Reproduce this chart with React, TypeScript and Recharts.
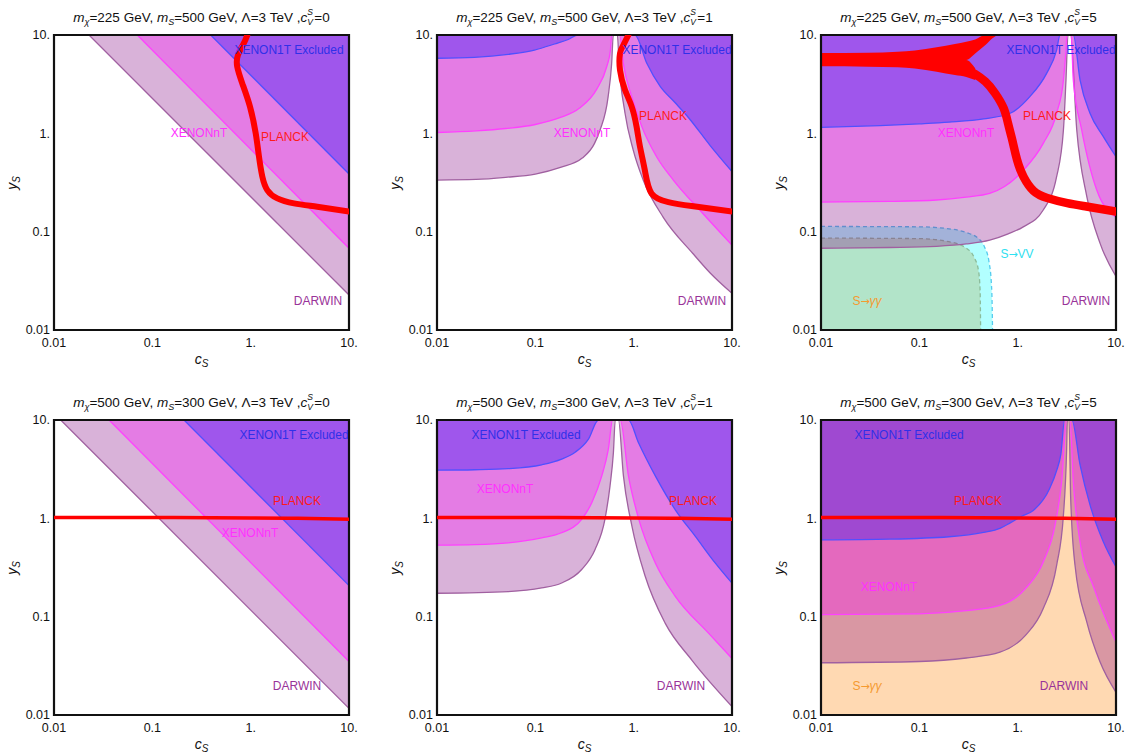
import React from "react";
import { ComposedChart, Area, Line, XAxis, YAxis, ReferenceArea } from "recharts";

const FONT = '"Liberation Sans", Arial, sans-serif';
const TICKS = [0.01, 0.1, 1, 10];
const fmtTick = (v: number) => (v >= 1 ? `${v}.` : `${v}`);

// ---- top row: m_chi = 225 GeV, m_S = 500 GeV ----
// cV = 0
const p1DarwinX = [0.0227, 10];
const p1DarwinY = [10, 0.0227];
const p1NtX = [0.0703, 10];
const p1NtY = [10, 0.0678];
const p1X1tX = [0.392, 10];
const p1X1tY = [10, 0.386];
const p1PlanckX = [0.925, 0.85, 0.743, 0.73, 0.822, 0.984, 1.125, 1.215, 1.314, 1.476, 1.866, 2.76, 4.76, 10];
const p1PlanckY = [10, 8.2, 6.27, 4.77, 3.22, 1.87, 1.0, 0.579, 0.363, 0.265, 0.218, 0.194, 0.179, 0.16];

// cV = 1
const p2DarwinX = [0.01, 0.025, 0.05, 0.1, 0.18, 0.3, 0.4, 0.455, 0.55, 0.597, 0.621, 0.683, 0.71, 0.817, 0.99, 1.25, 2, 4, 6, 10];
const p2DarwinY = [0.335, 0.34, 0.357, 0.385, 0.45, 0.56, 0.79, 1.08, 2.36, 5.1, 10, 10, 5.15, 1.6, 0.676, 0.335, 0.14, 0.06, 0.038, 0.0236];
const p2NtX = [0.01, 0.025, 0.05, 0.1, 0.18, 0.28, 0.42, 0.53, 0.58, 0.6, 0.72, 0.785, 0.955, 1.21, 1.71, 2.53, 5, 10];
const p2NtY = [1.02, 1.06, 1.12, 1.23, 1.45, 1.8, 2.8, 4.7, 7, 10, 10, 5.15, 2.36, 1.17, 0.578, 0.335, 0.155, 0.073];
const p2X1tX = [0.01, 0.024, 0.053, 0.098, 0.157, 0.216, 0.272, 1.03, 1.36, 1.86, 2.6, 3.6, 6, 10];
const p2X1tY = [5.8, 5.93, 6.36, 7.03, 8.1, 9.0, 10, 10, 5.15, 3.0, 2.08, 1.45, 0.75, 0.408];
const p2PlanckX = [0.883, 0.78, 0.726, 0.726, 0.817, 0.955, 1.07, 1.16, 1.3, 1.52, 2.25, 3.89, 10];
const p2PlanckY = [10, 7.8, 6.5, 4.4, 2.76, 1.87, 1.17, 0.73, 0.42, 0.245, 0.2, 0.182, 0.16];

// cV = 5
const p3DarwinX = [0.01, 0.05, 0.15, 0.3, 0.52, 0.8, 1.14, 1.82, 2.49, 2.92, 3.1, 3.25, 3.45, 3.99, 5.05, 6.89, 10];
const p3DarwinY = [0.0678, 0.069, 0.071, 0.075, 0.082, 0.095, 0.112, 0.166, 0.362, 1.08, 3.48, 10, 10, 1.08, 0.227, 0.076, 0.035];
const p3NtX = [0.01, 0.05, 0.15, 0.3, 0.52, 1.14, 1.82, 2.49, 2.92, 3.1, 3.17, 3.5, 3.68, 4.48, 6.37, 10];
const p3NtY = [0.2, 0.203, 0.21, 0.225, 0.245, 0.42, 0.79, 1.6, 3.48, 7, 10, 10, 3.48, 1.08, 0.265, 0.14];
const p3X1tX = [0.01, 0.04, 0.1, 0.2, 0.45, 0.84, 1.33, 1.97, 2.49, 2.7, 3.68, 4.31, 5.44, 7.43, 10];
const p3X1tY = [1.15, 1.2, 1.25, 1.3, 1.4, 1.6, 2.36, 4.07, 7.03, 10, 10, 3.48, 1.6, 0.925, 0.578];
const p3VvX = [0.01, 0.1, 0.2, 0.3, 0.4, 0.46, 0.51, 0.54, 0.552, 0.555];
const p3VvY = [0.113, 0.112, 0.107, 0.098, 0.085, 0.07, 0.05, 0.03, 0.015, 0.01];
const p3GgX = [0.01, 0.1, 0.2, 0.3, 0.36, 0.4, 0.415, 0.42];
const p3GgY = [0.086, 0.085, 0.079, 0.068, 0.055, 0.04, 0.025, 0.01];
// PLANCK band at top-left: an upper branch running into the top frame and a lower branch that turns down
const p3UpperX = [0.01, 0.03, 0.06, 0.09, 0.15, 0.23, 0.3, 0.37, 0.47, 0.55, 0.62];
const p3UpperLo = [5.45, 5.45, 5.45, 5.45, 5.45, 5.5, 5.57, 6.5, 7.9, 9.2, 10];
const p3UpperHi = [6.55, 6.6, 6.75, 6.95, 7.5, 8.1, 8.55, 9.0, 10, 10, 10];
const p3LowerX = [0.01, 0.03, 0.06, 0.09, 0.15, 0.23, 0.3, 0.37];
const p3LowerLo = [4.8, 4.76, 4.7, 4.56, 4.24, 3.92, 3.75, 3.48];
const p3LowerHi = [5.6, 5.6, 5.6, 5.6, 5.6, 5.6, 5.57, 4.58];
const p3PlanckX = [0.33, 0.37, 0.47, 0.59, 0.72, 0.8, 0.87, 0.95, 1.02, 1.15, 1.45, 2.0, 3.2, 5, 10];
const p3PlanckY = [4.25, 4.0, 3.35, 2.55, 1.8, 1.25, 0.9, 0.62, 0.48, 0.36, 0.26, 0.22, 0.195, 0.18, 0.16];

// ---- bottom row: m_chi = 500 GeV, m_S = 300 GeV ----
// cV = 0
const p4DarwinX = [0.0117, 10];
const p4DarwinY = [10, 0.0117];
const p4NtX = [0.0363, 10];
const p4NtY = [10, 0.035];
const p4X1tX = [0.21, 10];
const p4X1tY = [10, 0.207];
const flatPlanckX = [0.01, 0.1, 1, 3, 10];
const flatPlanckY = [1.02, 1.02, 1.01, 1.0, 0.98];

// cV = 1
const p5DarwinX = [0.01, 0.053, 0.116, 0.185, 0.296, 0.405, 0.51, 0.575, 0.622, 0.65, 0.7, 0.787, 0.96, 1.31, 2.09, 3.92, 10];
const p5DarwinY = [0.173, 0.18, 0.196, 0.22, 0.302, 0.483, 0.977, 2.14, 4.64, 10, 10, 2.7, 0.834, 0.258, 0.086, 0.036, 0.0122];
const p5NtX = [0.01, 0.024, 0.053, 0.116, 0.185, 0.296, 0.375, 0.474, 0.553, 0.61, 0.73, 0.885, 1.12, 1.66, 2.65, 5.8, 10];
const p5NtY = [0.534, 0.54, 0.563, 0.634, 0.713, 0.977, 1.44, 2.7, 5.06, 10, 10, 2.7, 1.0, 0.352, 0.161, 0.0676, 0.0376];
const p5X1tX = [0.01, 0.024, 0.053, 0.116, 0.185, 0.254, 0.347, 0.438, 0.885, 1.12, 1.66, 2.65, 4.24, 6.77, 10];
const p5X1tY = [3.09, 3.12, 3.2, 3.5, 4.0, 4.7, 6.4, 10, 10, 5.87, 2.7, 1.22, 0.655, 0.35, 0.219];

// cV = 5
const p6GgX = [0.01, 10];
const p6GgY = [10, 10];
const p6DarwinX = [0.01, 0.1, 0.3, 0.66, 1.2, 1.82, 2.49, 2.92, 3.15, 3.2, 3.33, 3.46, 3.83, 5.05, 6.89, 10];
const p6DarwinY = [0.034, 0.035, 0.038, 0.0435, 0.0645, 0.121, 0.333, 1.08, 5.2, 10, 10, 1.61, 0.333, 0.088, 0.0345, 0.017];
const p6NtX = [0.01, 0.1, 0.3, 0.66, 1.2, 1.82, 2.4, 2.8, 3.15, 3.4, 3.68, 4.31, 6.0, 10];
const p6NtY = [0.105, 0.107, 0.115, 0.13, 0.193, 0.36, 0.855, 2.36, 10, 10, 2.36, 0.577, 0.193, 0.055];
const p6X1tX = [0.01, 0.05, 0.2, 0.45, 0.66, 0.84, 1.1, 1.44, 2.11, 2.5, 2.75, 3.0, 3.56, 4.31, 5.44, 7.43, 10];
const p6X1tY = [0.605, 0.615, 0.65, 0.72, 0.79, 0.9, 1.05, 1.2, 2.0, 3.1, 4.5, 10, 10, 3.5, 1.37, 0.577, 0.32];

// region builders: "above" fills from the curve up to the top of the axis, "below" down to the bottom
const above = (xs: number[], ys: number[]) => xs.map((x, i) => ({ x, r: [10, ys[i]] }));
const below = (xs: number[], ys: number[]) => xs.map((x, i) => ({ x, r: [0.01, ys[i]] }));
const band = (xs: number[], lo: number[], hi: number[]) => xs.map((x, i) => ({ x, r: [lo[i], hi[i]] }));
const curve = (xs: number[], ys: number[]) => xs.map((x, i) => ({ x, y: ys[i] }));

const DARWIN = { fill: "#800080", stroke: "#a060a0" };
const NT = { fill: "#ff00ff", stroke: "#ff40ff" };
const X1T = { fill: "#0000ff", stroke: "#5050ff" };
const VV = { fill: "#00ffff", stroke: "#55ccee", dash: "4 3" };
const GG = { fill: "#ff8000", stroke: "#c8a070", dash: "4 3" };
const RED = { fill: "#ff0000", stroke: "none", opacity: 1 };

const C = {
  x1t: "#3030e8",
  nt: "#ff30ff",
  planck: "#ff1a1a",
  darwin: "#993399",
  vv: "#30e0f0",
  gg: "#f59a30",
};

type Region = { data: any[]; fill: string; stroke: string; dash?: string; opacity?: number };
type Curve = { data: any[]; width: number };
type Label = { text: React.ReactNode; x: number; y: number; color: string };

type PanelDef = {
  id: string;
  left: number;
  top: number;
  mx: number;
  ms: number;
  cv: number;
  regions: Region[];
  curves: Curve[];
  labels: Label[];
};

const arrow = { fontFamily: '"DejaVu Sans", sans-serif', fontSize: 11 };
const vv = (
  <span>
    S<span style={arrow}>→</span>VV
  </span>
);
const gg = (
  <span>
    S<span style={arrow}>→</span>
    <i>γγ</i>
  </span>
);

const PANELS: PanelDef[] = [
  {
    id: "p1", left: 54, top: 35, mx: 225, ms: 500, cv: 0,
    regions: [
      { data: above(p1DarwinX, p1DarwinY), ...DARWIN },
      { data: above(p1NtX, p1NtY), ...NT },
      { data: above(p1X1tX, p1X1tY), ...X1T },
    ],
    curves: [{ data: curve(p1PlanckX, p1PlanckY), width: 6 }],
    labels: [
      { text: "XENON1T Excluded", x: 289, y: 50, color: C.x1t },
      { text: "XENONnT", x: 199, y: 133, color: C.nt },
      { text: "PLANCK", x: 285, y: 137, color: C.planck },
      { text: "DARWIN", x: 318, y: 301, color: C.darwin },
    ],
  },
  {
    id: "p2", left: 437, top: 35, mx: 225, ms: 500, cv: 1,
    regions: [
      { data: above(p2DarwinX, p2DarwinY), ...DARWIN },
      { data: above(p2NtX, p2NtY), ...NT },
      { data: above(p2X1tX, p2X1tY), ...X1T },
    ],
    curves: [{ data: curve(p2PlanckX, p2PlanckY), width: 6 }],
    labels: [
      { text: "XENON1T Excluded", x: 677, y: 50, color: C.x1t },
      { text: "PLANCK", x: 663, y: 116, color: C.planck },
      { text: "XENONnT", x: 582, y: 133, color: C.nt },
      { text: "DARWIN", x: 702, y: 301, color: C.darwin },
    ],
  },
  {
    id: "p3", left: 821, top: 35, mx: 225, ms: 500, cv: 5,
    regions: [
      { data: below(p3GgX, p3GgY), ...GG },
      { data: below(p3VvX, p3VvY), ...VV },
      { data: above(p3DarwinX, p3DarwinY), ...DARWIN },
      { data: above(p3NtX, p3NtY), ...NT },
      { data: above(p3X1tX, p3X1tY), ...X1T },
      { data: band(p3UpperX, p3UpperLo, p3UpperHi), ...RED },
      { data: band(p3LowerX, p3LowerLo, p3LowerHi), ...RED },
    ],
    curves: [{ data: curve(p3PlanckX, p3PlanckY), width: 8.5 }],
    labels: [
      { text: "XENON1T Excluded", x: 1061, y: 50, color: C.x1t },
      { text: "PLANCK", x: 1047, y: 116, color: C.planck },
      { text: "XENONnT", x: 966, y: 133, color: C.nt },
      { text: vv, x: 1017, y: 254, color: C.vv },
      { text: gg, x: 867, y: 301, color: C.gg },
      { text: "DARWIN", x: 1086, y: 301, color: C.darwin },
    ],
  },
  {
    id: "p4", left: 54, top: 420, mx: 500, ms: 300, cv: 0,
    regions: [
      { data: above(p4DarwinX, p4DarwinY), ...DARWIN },
      { data: above(p4NtX, p4NtY), ...NT },
      { data: above(p4X1tX, p4X1tY), ...X1T },
    ],
    curves: [{ data: curve(flatPlanckX, flatPlanckY), width: 3.5 }],
    labels: [
      { text: "XENON1T Excluded", x: 294, y: 435, color: C.x1t },
      { text: "PLANCK", x: 297, y: 501, color: C.planck },
      { text: "XENONnT", x: 250, y: 533, color: C.nt },
      { text: "DARWIN", x: 297, y: 686, color: C.darwin },
    ],
  },
  {
    id: "p5", left: 437, top: 420, mx: 500, ms: 300, cv: 1,
    regions: [
      { data: above(p5DarwinX, p5DarwinY), ...DARWIN },
      { data: above(p5NtX, p5NtY), ...NT },
      { data: above(p5X1tX, p5X1tY), ...X1T },
    ],
    curves: [{ data: curve(flatPlanckX, flatPlanckY), width: 3.5 }],
    labels: [
      { text: "XENON1T Excluded", x: 526, y: 435, color: C.x1t },
      { text: "XENONnT", x: 505, y: 489, color: C.nt },
      { text: "PLANCK", x: 693, y: 501, color: C.planck },
      { text: "DARWIN", x: 681, y: 686, color: C.darwin },
    ],
  },
  {
    id: "p6", left: 821, top: 420, mx: 500, ms: 300, cv: 5,
    regions: [
      { data: below(p6GgX, p6GgY), fill: GG.fill, stroke: "none" },
      { data: above(p6DarwinX, p6DarwinY), ...DARWIN },
      { data: above(p6NtX, p6NtY), ...NT },
      { data: above(p6X1tX, p6X1tY), ...X1T },
    ],
    curves: [{ data: curve(flatPlanckX, flatPlanckY), width: 3.5 }],
    labels: [
      { text: "XENON1T Excluded", x: 909, y: 435, color: C.x1t },
      { text: "PLANCK", x: 978, y: 501, color: C.planck },
      { text: "XENONnT", x: 889, y: 587, color: C.nt },
      { text: gg, x: 867, y: 686, color: C.gg },
      { text: "DARWIN", x: 1064, y: 686, color: C.darwin },
    ],
  },
];

const PW = 295;
const PH = 295;

function Title({ mx, ms, cv }: { mx: number; ms: number; cv: number }) {
  const sub = { fontSize: 9, position: "relative", top: 3 } as React.CSSProperties;
  const script = { position: "absolute", left: 0, fontSize: 8.5, lineHeight: "9px" } as React.CSSProperties;
  return (
    <span>
      <i>m</i>
      <i style={sub}>χ</i>={mx} GeV, <i>m</i>
      <i style={sub}>S</i>={ms} GeV, Λ=3 TeV ,<i>c</i>
      <span style={{ position: "relative", display: "inline-block", width: 7, height: 10 }}>
        <i style={{ ...script, top: -4 }}>S</i>
        <i style={{ ...script, top: 6 }}>V</i>
      </span>
      ={cv}
    </span>
  );
}

function Panel(p: PanelDef) {
  return (
    <>
      <div
        style={{
          position: "absolute", left: p.left - 20, width: PW + 40, top: p.top - 25, textAlign: "center",
          fontSize: 13.5, whiteSpace: "nowrap", lineHeight: "16px",
        }}
      >
        <Title mx={p.mx} ms={p.ms} cv={p.cv} />
      </div>
      <div style={{ position: "absolute", left: p.left - 50, top: p.top - 10 }}>
        <ComposedChart width={PW + 60} height={PH + 45} margin={{ top: 10, right: 10, bottom: 0, left: 0 }}>
          <XAxis
            type="number" dataKey="x" scale="log" domain={[0.01, 10]} ticks={TICKS} allowDataOverflow
            tickFormatter={fmtTick} tickLine={false} axisLine={false} tickSize={8} tickMargin={0} height={35}
            tick={{ fontSize: 12.5, fill: "#111" }} interval={0}
          />
          <YAxis
            type="number" scale="log" domain={[0.01, 10]} ticks={TICKS} allowDataOverflow
            tickFormatter={fmtTick} tickLine={false} axisLine={false} tickSize={4} tickMargin={0} width={50}
            tick={{ fontSize: 12.5, fill: "#111" }} interval={0}
          />
          {p.regions.map((r, i) => (
            <Area
              key={`r${i}`} data={r.data} dataKey="r" type="monotoneX"
              fill={r.fill} fillOpacity={r.opacity ?? 0.3}
              stroke={r.stroke} strokeWidth={1.3} strokeDasharray={r.dash}
              dot={false} activeDot={false} isAnimationActive={false}
            />
          ))}
          {p.curves.map((c, i) => (
            <Line
              key={`c${i}`} data={c.data} dataKey="y" type="natural"
              stroke="#ff0000" strokeWidth={c.width} strokeLinecap="round"
              dot={false} activeDot={false} isAnimationActive={false}
            />
          ))}
          <ReferenceArea x1={0.01} x2={10} y1={0.01} y2={10} fill="none" stroke="#111" strokeWidth={2.2} ifOverflow="visible" />
        </ComposedChart>
      </div>
      {p.labels.map((l, i) => (
        <div
          key={`l${i}`}
          style={{
            position: "absolute", left: l.x, top: l.y, transform: "translate(-50%, -50%)",
            color: l.color, fontSize: 12, whiteSpace: "nowrap", lineHeight: "14px",
          }}
        >
          {l.text}
        </div>
      ))}
      <div
        style={{
          position: "absolute", left: p.left, width: PW, top: p.top + PH + 21, textAlign: "center",
          fontSize: 14, fontStyle: "italic", lineHeight: "16px",
        }}
      >
        c<span style={{ fontSize: 10, position: "relative", top: 3 }}>S</span>
      </div>
      <div
        style={{
          position: "absolute", left: p.left - 41, top: p.top + PH / 2, transform: "translate(-50%, -50%) rotate(-90deg)",
          fontSize: 14, fontStyle: "italic", lineHeight: "16px", whiteSpace: "nowrap",
        }}
      >
        y<span style={{ fontSize: 10, position: "relative", top: 3 }}>S</span>
      </div>
    </>
  );
}

export default function App() {
  return (
    <div
      style={{
        position: "fixed", left: 0, top: 0, width: 1126, height: 753, background: "#fff",
        fontFamily: FONT, color: "#111", overflow: "hidden",
      }}
    >
      {PANELS.map((p) => (
        <Panel key={p.id} {...p} />
      ))}
    </div>
  );
}
